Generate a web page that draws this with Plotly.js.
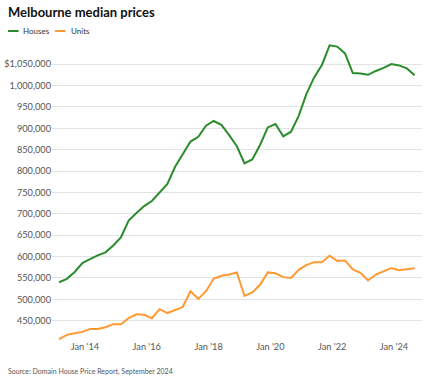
<!DOCTYPE html>
<html>
<head>
<meta charset="utf-8">
<script src="https://cdn.plot.ly/plotly-3.0.1.min.js"></script>
<style>
html,body{margin:0;padding:0;background:#fff;}
#chart{width:439px;height:379px;}
</style>
</head>
<body>
<div id="chart"></div>
<script>
// Quarterly dates (Mar 2013 - Sep 2024)
const quarters = [
 "2013-03-01","2013-06-01","2013-09-01","2013-12-01",
 "2014-03-01","2014-06-01","2014-09-01","2014-12-01",
 "2015-03-01","2015-06-01","2015-09-01","2015-12-01",
 "2016-03-01","2016-06-01","2016-09-01","2016-12-01",
 "2017-03-01","2017-06-01","2017-09-01","2017-12-01",
 "2018-03-01","2018-06-01","2018-09-01","2018-12-01",
 "2019-03-01","2019-06-01","2019-09-01","2019-12-01",
 "2020-03-01","2020-06-01","2020-09-01","2020-12-01",
 "2021-03-01","2021-06-01","2021-09-01","2021-12-01",
 "2022-03-01","2022-06-01","2022-09-01","2022-12-01",
 "2023-03-01","2023-06-01","2023-09-01","2023-12-01",
 "2024-03-01","2024-06-01","2024-09-01"
];
const houses = [
 540000,548000,564000,585000,
 594000,603000,610000,626000,
 645000,684000,702000,718000,
 730000,749000,770000,810000,
 838000,869000,880000,906000,
 917000,908000,884000,858000,
 818000,827000,861000,902000,
 910000,881000,892000,929000,
 980000,1019000,1048000,1094000,
 1091000,1075000,1029000,1028000,
 1025000,1034000,1041000,1050000,
 1047000,1040000,1024000
];
const units = [
 407000,417000,421000,424000,
 431000,431000,435000,442000,
 442000,456000,465000,464000,
 456000,477000,468000,475000,
 482000,519000,501000,519000,
 548000,555000,558000,563000,
 508000,516000,534000,563000,
 561000,552000,550000,569000,
 580000,587000,587000,602000,
 590000,591000,570000,562000,
 544000,558000,566000,573000,
 568000,570000,573000
];
const yTickVals = [450000,500000,550000,600000,650000,700000,750000,800000,850000,900000,950000,1000000,1050000];
const yTickText = ["450,000","500,000","550,000","600,000","650,000","700,000","750,000","800,000","850,000","900,000","950,000","1,000,000","$1,050,000"];
const seriesNames = ["Houses","Units"];
const seriesColors = ["#2b8c2b","#ff9933"];
const titleText = "Melbourne median prices";
const sourceText = "Source: Domain House Price Report, September 2024";

const W = 439, H = 379;
const M = {l: 52, r: 17, t: 44, b: 39};
const PW = W - M.l - M.r, PH = H - M.t - M.b;
// helpers to convert page pixels into paper coordinates (for layout-only items)
const px = v => (v - M.l) / PW;
const py = v => 1 - (v - M.t) / PH;

const font = "Lato, 'Open Sans', sans-serif";
const traces = seriesNames.map((n, i) => ({
  x: quarters, y: i === 0 ? houses : units, name: n, type: "scatter", mode: "lines",
  line: {color: seriesColors[i], width: 2}, showlegend: false
}));

// custom compact legend (short line swatches + labels)
const legendItems = [
  {x0: 8, x1: 18.5, tx: 22},
  {x0: 55, x1: 65.5, tx: 69.5}
];
const shapes = legendItems.map((it, i) => ({
  type: "line", xref: "paper", yref: "paper",
  x0: px(it.x0), x1: px(it.x1), y0: py(31), y1: py(31),
  line: {color: seriesColors[i], width: 2}
}));
const legendLabels = legendItems.map((it, i) => ({
  text: seriesNames[i], xref: "paper", yref: "paper", x: px(it.tx), y: py(31),
  xanchor: "left", yanchor: "middle", showarrow: false, borderpad: 0,
  font: {family: font, size: 8, color: "#333"}
}));

const layout = {
 width: W, height: H,
 margin: {l: M.l, r: M.r, t: M.t, b: M.b, pad: 0},
 paper_bgcolor: "#fff", plot_bgcolor: "#fff",
 font: {family: font, size: 9.2, color: "#555"},
 title: {text: "<b>" + titleText + "</b>", x: 8/W, xref: "container", xanchor: "left",
   y: 1 - 12/H, yref: "container", yanchor: "middle",
   font: {family: font, size: 13, color: "#111"}},
 showlegend: false,
 xaxis: {type: "date", range: ["2012-12-07", "2024-11-27"], tick0: "2014-01-01", dtick: "M24",
   tickformat: "%b '%y", showgrid: false, zeroline: false, showline: false, ticks: "",
   automargin: false,
   tickfont: {family: font, size: 9.2, color: "#555"}, fixedrange: true},
 yaxis: {range: [405000, 1097000], tickvals: yTickVals, ticktext: yTickText,
   showgrid: true, gridcolor: "#e3e3e3", gridwidth: 1, zeroline: false, showline: false,
   automargin: false,
   ticks: "", tickfont: {family: font, size: 9.2, color: "#555"}, fixedrange: true},
 shapes: shapes,
 annotations: legendLabels.concat([
  {text: sourceText, xref: "paper", yref: "paper", x: px(7), y: py(371.5),
   xanchor: "left", yanchor: "middle", showarrow: false, borderpad: 0,
   font: {family: font, size: 7, color: "#555"}}
 ])
};
Plotly.newPlot("chart", traces, layout, {displayModeBar: false, staticPlot: true});
</script>
</body>
</html>
